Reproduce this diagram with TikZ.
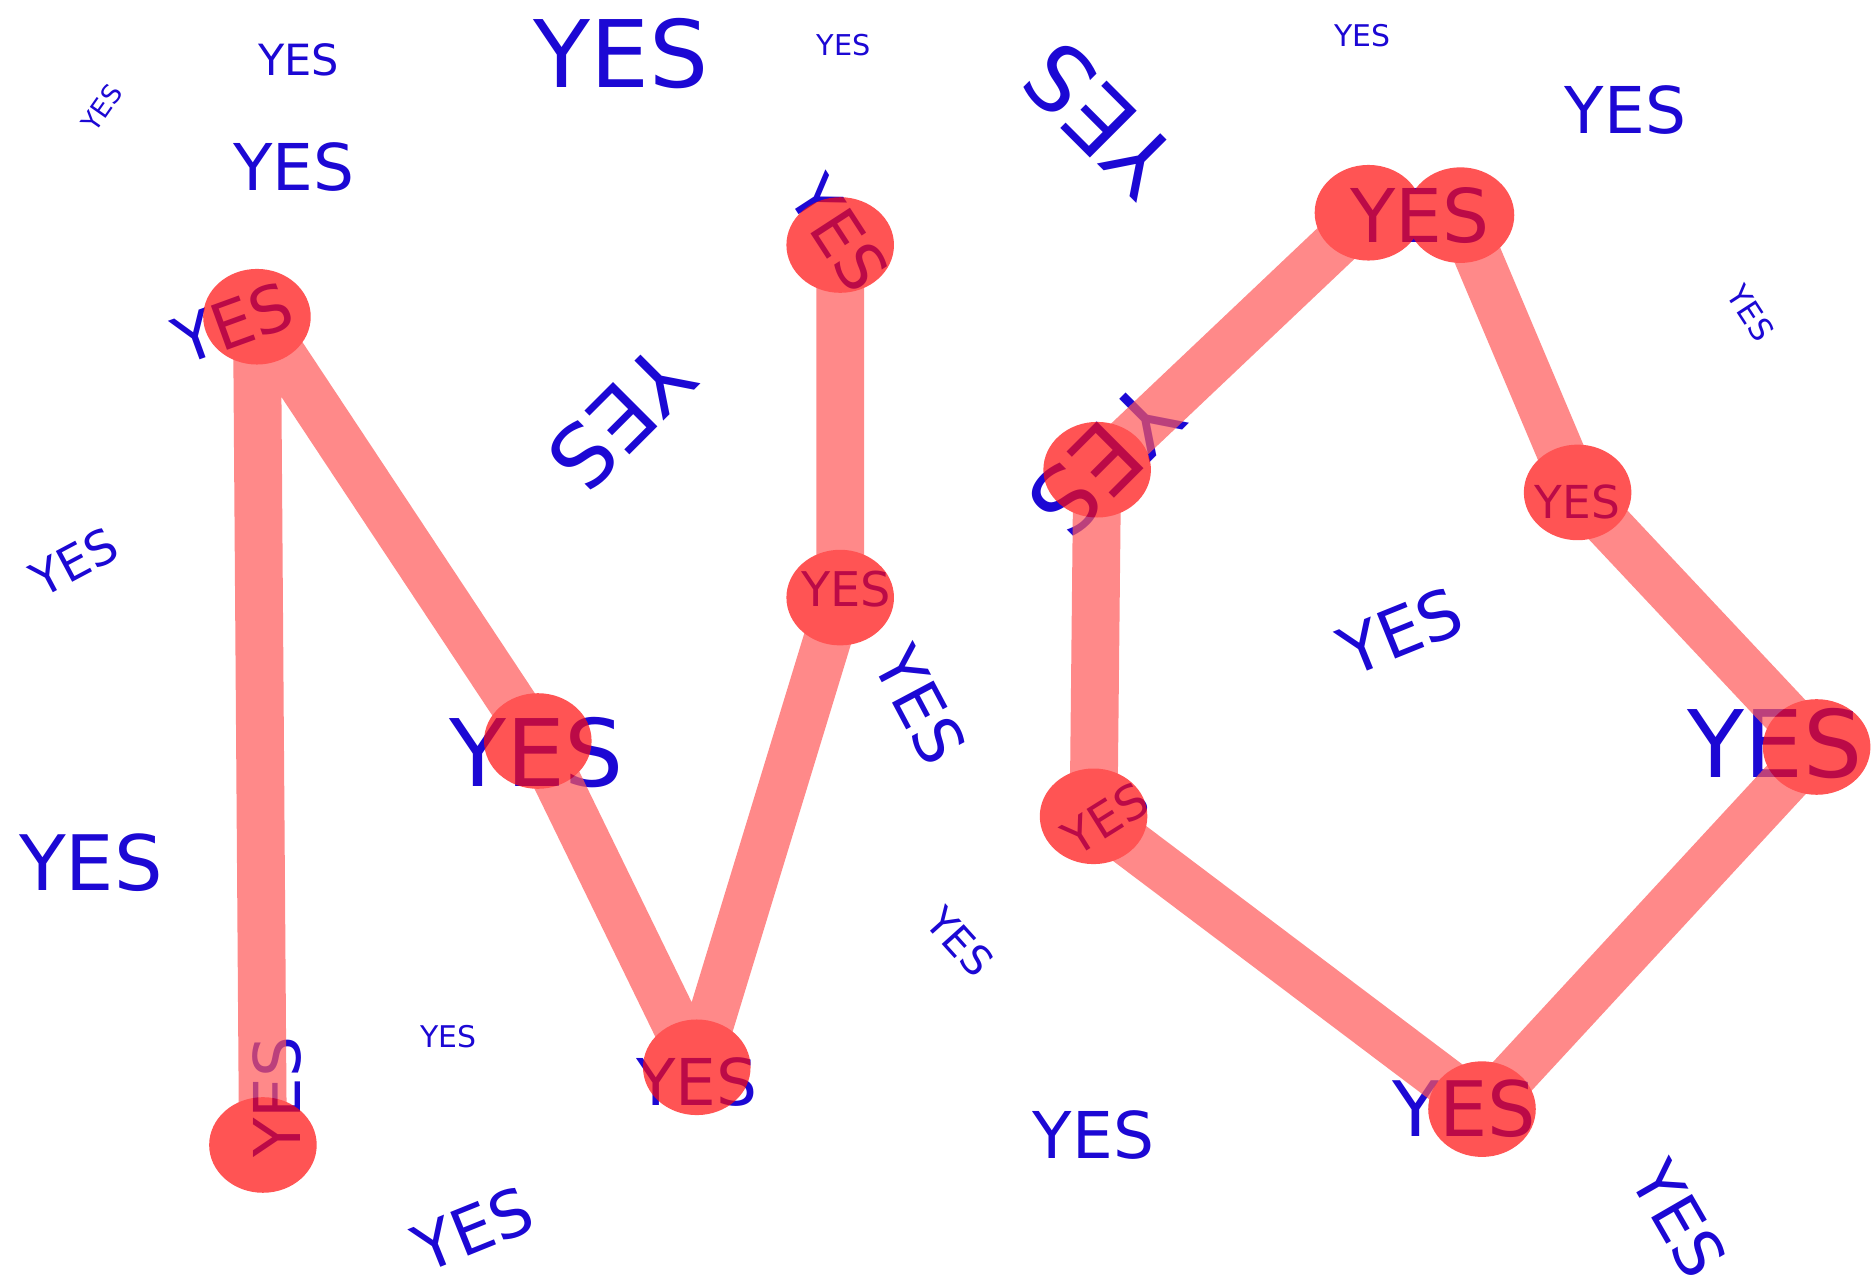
\documentclass[tikz,border=0pt]{standalone}
\usepackage{fontspec}
\setmainfont{DejaVu Sans}
\usetikzlibrary{shapes.geometric}
\definecolor{yblue}{RGB}{28,8,212}
\definecolor{edgered}{RGB}{255,88,88}
\definecolor{dotred}{RGB}{255,12,12}
\tikzset{
  yes/.style={text=yblue, inner sep=0pt, font=\fontsize{#1}{#1}\selectfont},
  dot/.style={ellipse, fill=dotred, minimum width=90pt, minimum height=80pt, inner sep=0pt},
  link/.style={draw=edgered, line width=40pt, line join=round},
}
\begin{document}
\begin{tikzpicture}[x=1pt,y=-1pt]
\fill[white] (0,0) rectangle (1568,1072);
\useasboundingbox (0,0) rectangle (1568,1072);
% free labels
\node[yes=22,rotate=55] (f1) at (85,90) {YES};
\node[yes=36] (f2) at (250,50) {YES};
\node[yes=78] (f3) at (520,45) {YES};
\node[yes=24] (f4) at (706,38) {YES};
\node[yes=54] (f5) at (246,140) {YES};
\node[yes=72,rotate=-135] (f6) at (520,350) {YES};
\node[yes=40,rotate=28] (f7) at (62,470) {YES};
\node[yes=64] (f8) at (76,722) {YES};
\node[yes=25] (f9) at (375,867) {YES};
\node[yes=54,rotate=22] (f10) at (396,1028) {YES};
\node[yes=54,rotate=-62] (f11) at (770,590) {YES};
\node[yes=34,rotate=-48] (f12) at (803,788) {YES};
\node[yes=76,rotate=135] (f13) at (920,100) {YES};
\node[yes=25] (f14) at (1140,30) {YES};
\node[yes=54] (f15) at (1360,92) {YES};
\node[yes=26,rotate=-57] (f16) at (1465,262) {YES};
\node[yes=56,rotate=22] (f17) at (1172,528) {YES};
\node[yes=54] (f18) at (915,950) {YES};
\node[yes=54,rotate=-60] (f19) at (1405,1020) {YES};
% labels of the graph nodes
\node[yes=54,rotate=20] (l1) at (195,270) {YES};
\node[yes=54,rotate=90] (l2) at (232,918) {YES};
\node[yes=78] (l3) at (449,630) {YES};
\node[yes=54] (l4) at (583,905) {YES};
\node[yes=40] (l5) at (708,493) {YES};
\node[yes=54,rotate=-57] (l6) at (702,195) {YES};
\node[yes=76,rotate=-135] (l7) at (925,385) {YES};
\node[yes=62] (l8) at (1188,180) {YES};
\node[yes=38] (l9) at (1320,420) {YES};
\node[yes=78] (l10) at (1485,622) {YES};
\node[yes=64] (l11) at (1225,928) {YES};
\node[yes=40,rotate=32] (l12) at (925,685) {YES};
% graph
\begin{scope}[transparency group, opacity=0.7]
\coordinate (p1) at (215,265);
\coordinate (p2) at (220,958);
\coordinate (p3) at (450,620);
\coordinate (p4) at (583,893);
\coordinate (p5) at (703,500);
\coordinate (p6) at (703,205);
\coordinate (q1) at (918,393);
\coordinate (q2) at (1145,178);
\coordinate (q3) at (1222,180);
\coordinate (q4) at (1320,412);
\coordinate (q5) at (1520,625);
\coordinate (q6) at (1240,928);
\coordinate (q7) at (915,683);
\draw[link] (p2) -- (p1) -- (p3) -- (p4) -- (p5) -- (p6);
\draw[link] (q1) -- (q2);
\draw[link] (q3) -- (q4) -- (q5) -- (q6) -- (q7) -- (q1);
\node[dot] (c1) at (p1) {};
\node[dot] (c2) at (p2) {};
\node[dot] (c3) at (p3) {};
\node[dot] (c4) at (p4) {};
\node[dot] (c5) at (p5) {};
\node[dot] (c6) at (p6) {};
\node[dot] (d1) at (q1) {};
\node[dot] (d2) at (q2) {};
\node[dot] (d3) at (q3) {};
\node[dot] (d4) at (q4) {};
\node[dot] (d5) at (q5) {};
\node[dot] (d6) at (q6) {};
\node[dot] (d7) at (q7) {};
\end{scope}
\end{tikzpicture}
\end{document}
